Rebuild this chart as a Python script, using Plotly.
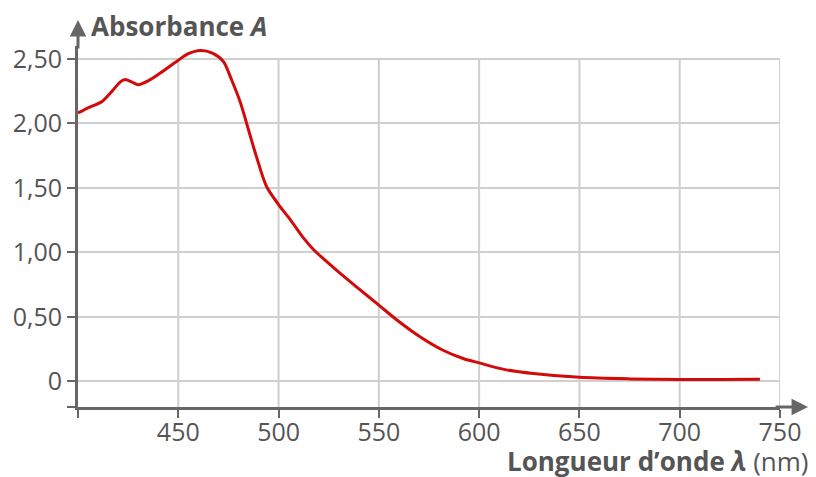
import plotly.graph_objects as go

# --- data ---
wavelength = [400, 405, 412, 417, 421, 423.5, 427, 430, 435, 441, 450, 455, 461,
              467, 472.5, 476.5, 481, 485, 489, 494, 500, 506, 512.5, 517.5, 529,
              539, 550, 559, 570.5, 582, 592, 600, 613, 627, 650, 675, 700, 720, 740]
absorbance = [2.08, 2.12, 2.17, 2.25, 2.32, 2.34, 2.32, 2.30, 2.33, 2.39, 2.49, 2.54, 2.565,
              2.545, 2.48, 2.34, 2.16, 1.95, 1.74, 1.51, 1.37, 1.25, 1.11, 1.02, 0.86,
              0.73, 0.59, 0.475, 0.345, 0.24, 0.176, 0.142, 0.09, 0.06, 0.03, 0.018, 0.013, 0.013, 0.015]

x_tick_vals = [400, 450, 500, 550, 600, 650, 700, 750]
x_tick_text = ["", "450", "500", "550", "600", "650", "700", "750"]
y_tick_vals = [-0.2, 0, 0.5, 1.0, 1.5, 2.0, 2.5]
y_tick_text = ["", "0", "0,50", "1,00", "1,50", "2,00", "2,50"]

axis_col = "#666666"
grid_col = "#cfcfcf"
text_col = "#555555"
font_family = "Open Sans"

fig = go.Figure()
fig.add_trace(go.Scatter(
    x=wavelength, y=absorbance, mode="lines",
    line=dict(color="#d20a0a", width=3, shape="spline", smoothing=0.8),
    hoverinfo="skip", showlegend=False,
))

# vertical grid lines limited to the 0..2.5 band (from the tick list)
for xv in x_tick_vals[1:]:
    fig.add_shape(type="line", xref="x", yref="y", x0=xv, x1=xv,
                  y0=y_tick_vals[0], y1=y_tick_vals[-1],
                  line=dict(color=grid_col, width=2), layer="below")

# the page body has an 8px default margin, so the figure is sized to fit the window
fig.update_layout(
    width=808, height=469,
    margin=dict(l=70, r=36, t=38, b=70),
    paper_bgcolor="white", plot_bgcolor="white",
    font=dict(family=font_family, color=text_col, size=25),
    showlegend=False,
    xaxis=dict(
        range=[400, 750], tickvals=x_tick_vals, ticktext=x_tick_text,
        showgrid=False, zeroline=False, automargin=False,
        showline=True, linecolor=axis_col, linewidth=3,
        ticks="outside", ticklen=8, tickwidth=2, tickcolor=axis_col,
        ticklabelstandoff=-7,
        tickfont=dict(size=25, color=text_col, family=font_family),
    ),
    yaxis=dict(
        range=[-0.2, 2.6], tickvals=y_tick_vals, ticktext=y_tick_text,
        showgrid=True, gridcolor=grid_col, gridwidth=2, zeroline=False,
        automargin=False,
        showline=True, linecolor=axis_col, linewidth=3,
        ticks="outside", ticklen=8, tickwidth=2, tickcolor=axis_col,
        tickfont=dict(size=25, color=text_col, family=font_family),
    ),
)

# axis arrows
fig.add_annotation(xref="paper", yref="paper", x=1.04, y=0, ax=-34, ay=0,
                   text="", showarrow=True, arrowhead=2, arrowsize=1.1,
                   arrowwidth=3, arrowcolor=axis_col, standoff=0)
fig.add_annotation(xref="paper", yref="paper", x=0, y=1.072, ax=0, ay=30,
                   text="", showarrow=True, arrowhead=2, arrowsize=1.1,
                   arrowwidth=3, arrowcolor=axis_col, standoff=0)

# axis titles
fig.add_annotation(xref="paper", yref="paper", x=0.016, y=1.055,
                   xanchor="left", yanchor="middle", showarrow=False,
                   text="<b>Absorbance <i>A</i></b>",
                   font=dict(size=26, color=text_col, family=font_family))
fig.add_annotation(xref="paper", yref="paper", x=1.044, y=-0.15,
                   xanchor="right", yanchor="middle", showarrow=False,
                   text="<b>Longueur d’onde <i>λ</i></b> (nm)",
                   font=dict(size=26, color=text_col, family=font_family))

fig.write_html("out.html")
